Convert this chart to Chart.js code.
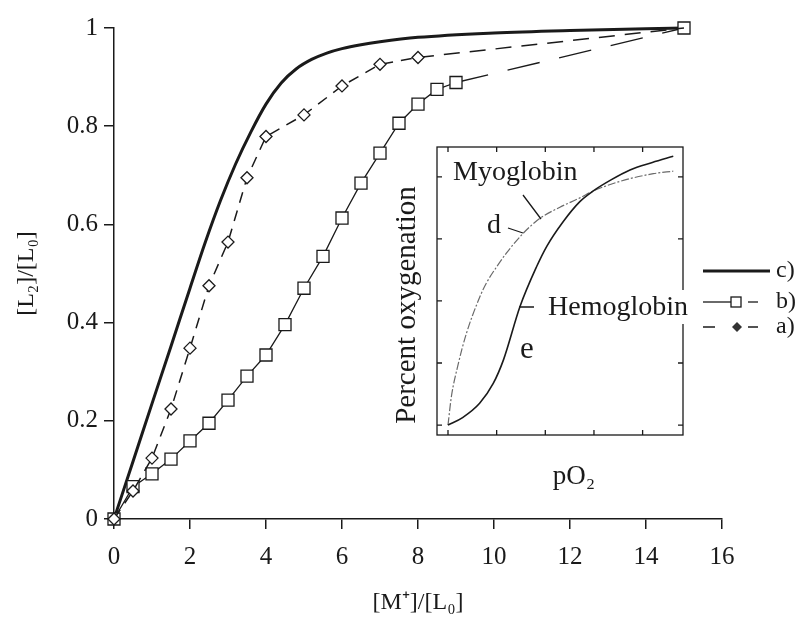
<!DOCTYPE html>
<html><head><meta charset="utf-8">
<script src="https://cdn.jsdelivr.net/npm/chart.js@4.4.1/dist/chart.umd.min.js"></script>
<style>
html,body{margin:0;padding:0;background:#fff;}
#wrap{position:relative;width:800px;height:617px;overflow:hidden;background:#fff;}
#main{position:absolute;left:0;top:0;}
#inset{position:absolute;left:380px;top:120px;}
</style></head><body>
<div id="wrap"><canvas id="main" width="800" height="617"></canvas><canvas id="inset" width="320" height="380"></canvas></div>
<script>
const FONT = "'Liberation Serif','Times New Roman',serif";
const INK = '#1a1a1a';

// ---- main chart data ----
// a) diamonds, short-dashed
const aX = [0,0.5,1,1.5,2,2.5,3,3.5,4,5,6,7,8,15];
const aY = [0,0.057,0.124,0.224,0.348,0.475,0.564,0.695,0.779,0.823,0.882,0.926,0.940,1.0];
// b) squares, solid then long-dashed
const bX = [0,0.5,1,1.5,2,2.5,3,3.5,4,4.5,5,5.5,6,6.5,7,7.5,8,8.5,9,15];
const bY = [0,0.066,0.092,0.122,0.159,0.195,0.242,0.291,0.334,0.396,0.470,0.535,0.613,0.684,0.745,0.806,0.845,0.875,0.889,1.0];
// c) thick solid curve
const cX = [0,0.5,1,1.5,2,2.4,2.8,3.2,3.6,4,4.4,4.8,5.2,5.6,6,6.5,7,8,10,12,15];
const cY = [0,0.117,0.235,0.352,0.47,0.563,0.648,0.723,0.788,0.845,0.888,0.917,0.936,0.949,0.958,0.966,0.972,0.981,0.99,0.995,1.0];
// tick labels
const xTicks = [0,2,4,6,8,10,12,14,16];
const yTicks = [0,0.2,0.4,0.6,0.8,1];

// ---- inset data ----
const myoX = [0,0.07,0.2,0.38,0.657,0.79,1.0,1.2,1.546,1.889,2.3,2.71,2.98,3.35,3.74,4.22,4.63];
const myoY = [0,0.46,0.95,1.48,2.07,2.29,2.55,2.77,3.09,3.33,3.51,3.66,3.77,3.88,3.97,4.05,4.09];
const hemoX = [0,0.3,0.65,0.93,1.14,1.48,1.82,2.03,2.37,2.71,2.98,3.35,3.74,4.2,4.63];
const hemoY = [0,0.12,0.35,0.67,1.05,1.91,2.55,2.88,3.28,3.6,3.77,3.95,4.11,4.23,4.33];
const insetXTicks = [0,1,2,3,4];
const insetYTicks = [0,1,2,3,4];

const pts = (xs, ys) => xs.map((x, i) => ({x: x, y: ys[i]}));

const sideLegend = {
  id: 'sideLegend',
  afterDraw(chart) {
    const c = chart.ctx;
    c.save();
    c.strokeStyle = INK; c.fillStyle = INK; c.lineCap = 'butt';
    // c)
    c.lineWidth = 3;
    c.beginPath(); c.moveTo(703, 271); c.lineTo(770, 271); c.stroke();
    // b)
    c.lineWidth = 1.3;
    c.beginPath(); c.moveTo(703, 302); c.lineTo(731, 302); c.stroke();
    c.beginPath(); c.moveTo(748, 302); c.lineTo(758, 302); c.stroke();
    c.fillStyle = '#fff'; c.fillRect(731, 297, 10, 10); c.strokeRect(731, 297, 10, 10);
    // a)
    c.lineWidth = 1.5;
    c.beginPath(); c.moveTo(703, 327); c.lineTo(715, 327); c.stroke();
    c.beginPath(); c.moveTo(748, 327); c.lineTo(758, 327); c.stroke();
    c.fillStyle = '#333';
    c.beginPath(); c.moveTo(732, 327); c.lineTo(737, 322); c.lineTo(742, 327); c.lineTo(737, 332); c.closePath(); c.fill();
    // text
    c.fillStyle = INK; c.font = '24px ' + FONT; c.textBaseline = 'middle'; c.textAlign = 'left';
    c.fillText('c)', 776, 271);
    c.fillText('b)', 776, 302);
    c.fillText('a)', 776, 327);
    c.restore();
  }
};

const tickFont = {family: FONT, size: 25};
const titleFont = {family: FONT, size: 24};

new Chart(document.getElementById('main'), {
  type: 'line',
  data: {
    datasets: [
      {
        label: 'a)', data: pts(aX, aY), borderColor: INK, borderWidth: 1.5,
        pointStyle: 'rectRot', pointRadius: aX.map(x => x === 15 ? 0 : 6),
        pointBackgroundColor: '#fff', pointBorderColor: INK, pointBorderWidth: 1.3,
        tension: 0, clip: false, fill: false,
        segment: { borderDash: ctx => ctx.p0.parsed.x >= 8 ? [16, 10] : [11, 8] }
      },
      {
        label: 'b)', data: pts(bX, bY), borderColor: INK, borderWidth: 1.3,
        pointStyle: 'rect', pointRadius: 8.5,
        pointBackgroundColor: '#fff', pointBorderColor: INK, pointBorderWidth: 1.3,
        tension: 0, clip: false, fill: false,
        segment: { borderDash: ctx => ctx.p0.parsed.x >= 9 ? [33, 20] : [] }
      },
      {
        label: 'c)', data: pts(cX, cY), borderColor: INK, borderWidth: 3,
        pointRadius: 0, cubicInterpolationMode: 'monotone', clip: false, fill: false
      }
    ]
  },
  options: {
    responsive: false, animation: false, devicePixelRatio: 1,
    layout: { padding: {left: 0, right: 78, top: 28, bottom: 0} },
    plugins: { legend: {display: false}, tooltip: {enabled: false} },
    scales: {
      x: {
        type: 'linear', min: 0, max: 16,
        afterBuildTicks: s => { s.ticks = xTicks.map(v => ({value: v})); },
        afterFit: s => { s.height = 98; },
        grid: {drawOnChartArea: false, drawTicks: true, tickLength: 10, color: INK, lineWidth: 1.5},
        border: {display: true, color: INK, width: 1.5},
        ticks: {font: tickFont, color: INK, padding: 13, maxRotation: 0, autoSkip: false, callback: v => String(v)},
        title: {display: true, text: '[M⁺]/[L₀]', font: titleFont, color: INK, padding: {top: 0, bottom: 0}}
      },
      y: {
        type: 'linear', min: 0, max: 1,
        afterBuildTicks: s => { s.ticks = yTicks.map(v => ({value: v})); },
        afterFit: s => { s.width = 114; },
        grid: {drawOnChartArea: false, drawTicks: true, tickLength: 10, color: INK, lineWidth: 1.5},
        border: {display: true, color: INK, width: 1.5},
        ticks: {font: tickFont, color: INK, padding: 6, autoSkip: false, callback: v => String(v)},
        title: {display: true, text: '[L₂]/[L₀]', font: titleFont, color: INK, padding: {top: 12, bottom: 0}}
      }
    }
  },
  plugins: [sideLegend]
});

// ---- inset ----
const insetFrame = {
  id: 'insetFrame',
  beforeDatasetsDraw(chart) {
    const c = chart.ctx, a = chart.chartArea;
    const xs = chart.scales.x, ys = chart.scales.y;
    c.save();
    c.fillStyle = '#fff';
    c.fillRect(a.left, a.top, a.right - a.left, a.bottom - a.top);
    c.strokeStyle = INK; c.lineWidth = 1.3;
    c.strokeRect(a.left, a.top, a.right - a.left, a.bottom - a.top);
    const tl = 5;
    c.beginPath();
    insetXTicks.forEach(v => {
      const px = xs.getPixelForValue(v);
      c.moveTo(px, a.bottom); c.lineTo(px, a.bottom - tl);
      c.moveTo(px, a.top); c.lineTo(px, a.top + tl);
    });
    insetYTicks.forEach(v => {
      const py = ys.getPixelForValue(v);
      c.moveTo(a.left, py); c.lineTo(a.left + tl, py);
      c.moveTo(a.right, py); c.lineTo(a.right - tl, py);
    });
    c.stroke();
    c.restore();
  },
  afterDraw(chart) {
    const c = chart.ctx;
    c.save();
    c.strokeStyle = INK; c.fillStyle = INK; c.lineWidth = 1.3;
    c.textAlign = 'left'; c.textBaseline = 'alphabetic';
    // leaders
    c.beginPath();
    c.moveTo(143, 75); c.lineTo(161, 99);
    c.moveTo(128, 108); c.lineTo(143, 113);
    c.moveTo(139, 187); c.lineTo(154, 187);
    c.stroke();
    c.font = '28px ' + FONT;
    c.fillText('Myoglobin', 73, 60);
    const w = c.measureText('Hemoglobin').width;
    c.fillStyle = '#fff'; c.fillRect(166, 170, w + 4, 34);
    c.fillStyle = INK;
    c.fillText('Hemoglobin', 168, 195);
    c.font = '28px ' + FONT;
    c.fillText('d', 107, 113);
    c.font = '31px ' + FONT;
    c.fillText('e', 140, 238);
    // axis titles of the inset
    c.font = '27px ' + FONT;
    c.textAlign = 'center';
    c.fillText('pO₂', 194, 364);
    c.save();
    c.translate(27, 185);
    c.rotate(-Math.PI / 2);
    c.font = '29px ' + FONT;
    c.textBaseline = 'middle';
    c.fillText('Percent oxygenation', 0, 0);
    c.restore();
    c.restore();
  }
};

new Chart(document.getElementById('inset'), {
  type: 'line',
  data: {
    datasets: [
      {
        label: 'Hemoglobin', data: pts(hemoX, hemoY), borderColor: INK, borderWidth: 1.6,
        pointRadius: 0, cubicInterpolationMode: 'monotone', fill: false
      },
      {
        label: 'Myoglobin', data: pts(myoX, myoY), borderColor: '#6a6a6a', borderWidth: 1.2,
        borderDash: [8, 2, 2, 2], pointRadius: 0, cubicInterpolationMode: 'monotone', fill: false
      }
    ]
  },
  options: {
    responsive: false, animation: false, devicePixelRatio: 1,
    layout: { padding: {left: 0, right: 17, top: 27, bottom: 0} },
    plugins: { legend: {display: false}, tooltip: {enabled: false} },
    scales: {
      x: {
        type: 'linear', min: -0.226, max: 4.83,
        afterFit: s => { s.height = 65; },
        ticks: {display: false}, grid: {display: false}, border: {display: false},
        title: {display: false, text: 'pO₂'}
      },
      y: {
        type: 'linear', min: -0.16, max: 4.48,
        afterFit: s => { s.width = 57; },
        ticks: {display: false}, grid: {display: false}, border: {display: false},
        title: {display: false, text: 'Percent oxygenation'}
      }
    }
  },
  plugins: [insetFrame]
});
</script>
</body></html>
